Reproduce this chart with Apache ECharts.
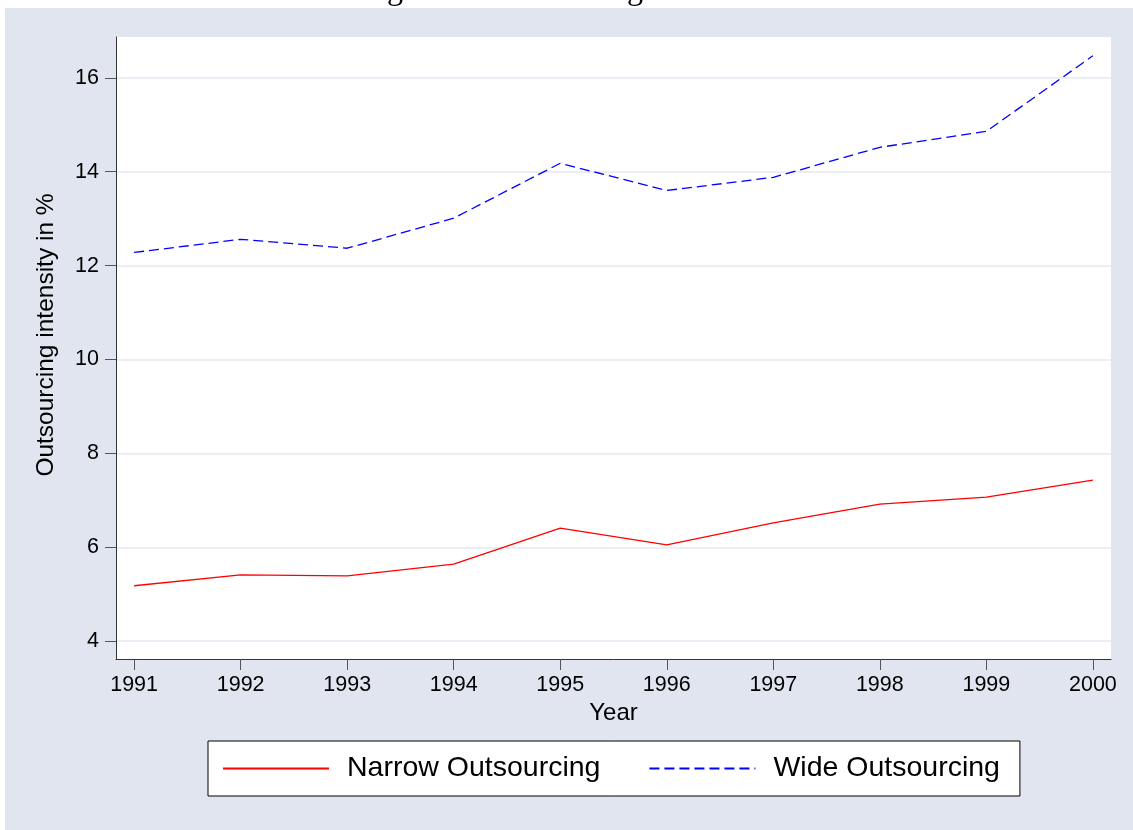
<!DOCTYPE html>
<html>
<head>
<meta charset="utf-8">
<script src="https://cdn.jsdelivr.net/npm/echarts@6/dist/echarts.min.js"></script>
<style>
  html, body { margin: 0; padding: 0; background: #ffffff; width: 1133px; height: 830px; overflow: hidden; }
  #panel { position: absolute; left: 5px; top: 8px; right: 0; bottom: 0; background: #E1E5EF; }
  #chart { position: absolute; left: 0; top: 0; width: 1133px; height: 830px; }
</style>
</head>
<body>
<div id="panel"></div>
<div id="chart"></div>
<script>
const years = [1991, 1992, 1993, 1994, 1995, 1996, 1997, 1998, 1999, 2000];
const narrow = [5.18, 5.41, 5.39, 5.64, 6.41, 6.05, 6.52, 6.92, 7.07, 7.43];
const wide = [12.28, 12.56, 12.37, 13.01, 14.18, 13.60, 13.88, 14.52, 14.86, 16.47];
const yTicks = [4, 6, 8, 10, 12, 14, 16];
const titleText = 'Figure 1: Outsourcing over time';

const chart = echarts.init(document.getElementById('chart'), null, { renderer: 'canvas' });
const font = 'Liberation Sans, Arial, sans-serif';
chart.setOption({
  backgroundColor: 'transparent',
  animation: false,
  title: {
    text: titleText,
    left: 'center',
    top: -25,
    padding: 0,
    textStyle: { fontFamily: 'Liberation Serif, serif', fontSize: 32, fontWeight: 'normal', color: '#000' }
  },
  grid: {
    left: 116, right: 22, top: 37, bottom: 171,
    show: true, backgroundColor: '#ffffff', borderWidth: 0,
    containLabel: false
  },
  legend: {
    left: 208, top: 741,
    padding: [13, 20, 13, 14],
    backgroundColor: '#ffffff',
    borderColor: '#000000',
    borderWidth: 1,
    borderRadius: 0,
    itemWidth: 106,
    itemHeight: 14,
    itemGap: 48,
    itemStyle: { opacity: 0 },
    textStyle: { fontFamily: font, fontSize: 28.5, color: '#000', padding: [0, 0, 0, 13] },
    data: ['Narrow Outsourcing', 'Wide Outsourcing']
  },
  xAxis: {
    type: 'value',
    min: 1990.83, max: 2000.17,
    name: 'Year',
    nameLocation: 'middle',
    nameGap: 40,
    nameTextStyle: { fontFamily: font, fontSize: 24, color: '#000' },
    axisLine: { show: true, lineStyle: { color: '#333', width: 1 } },
    axisTick: { show: true, length: 11, inside: false, customValues: years, lineStyle: { color: '#555', width: 1 } },
    axisLabel: { customValues: years, margin: 15, fontFamily: font, fontSize: 21.5, color: '#000', formatter: v => String(v) },
    splitLine: { show: false }
  },
  yAxis: {
    type: 'value',
    min: 3.62, max: 16.87,
    name: 'Outsourcing intensity in %',
    nameLocation: 'middle',
    nameGap: 57,
    nameTextStyle: { fontFamily: font, fontSize: 24.5, color: '#000', padding: [0, 0, 0, 26] },
    axisLine: { show: true, lineStyle: { color: '#333', width: 1 } },
    axisTick: { show: true, length: 11, customValues: yTicks, lineStyle: { color: '#555', width: 1 } },
    axisLabel: { customValues: yTicks, margin: 17, fontFamily: font, fontSize: 21.5, color: '#000', formatter: v => String(v) },
    splitLine: { show: true, customValues: yTicks, lineStyle: { color: '#E4E8F1', width: 1.5 } }
  },
  series: [
    {
      name: 'Narrow Outsourcing',
      type: 'line',
      data: years.map((y, i) => [y, narrow[i]]),
      symbol: 'none',
      lineStyle: { color: '#FF0000', width: 1.3, type: 'solid' },
      itemStyle: { color: '#FF0000' }
    },
    {
      name: 'Wide Outsourcing',
      type: 'line',
      data: years.map((y, i) => [y, wide[i]]),
      symbol: 'none',
      lineStyle: { color: '#0000FF', width: 1.3, type: [10, 5] },
      itemStyle: { color: '#0000FF' }
    }
  ]
});
</script>
</body>
</html>
